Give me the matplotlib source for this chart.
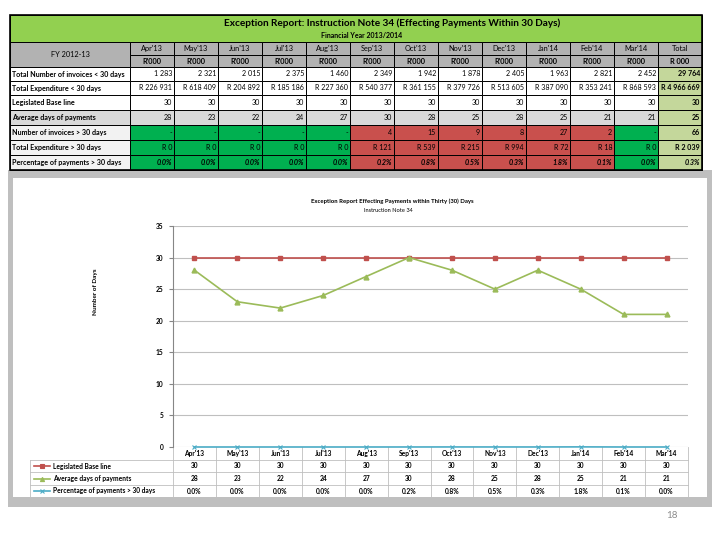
import matplotlib.pyplot as plt
from matplotlib.patches import Rectangle
from matplotlib.transforms import blended_transform_factory

plt.rcParams['font.family'] = ['Lato', 'DejaVu Sans']

# ---- data ----
months = ["Apr'13", "May'13", "Jun'13", "Jul'13", "Aug'13", "Sep'13",
          "Oct'13", "Nov'13", "Dec'13", "Jan'14", "Feb'14", "Mar'14"]
n_lt30 = [1283, 2321, 2015, 2375, 1460, 2349, 1942, 1878, 2405, 1963, 2821, 2452]
n_lt30_total = 29764
exp_lt30 = [226931, 618409, 204892, 185186, 227360, 540377, 361155, 379726,
            513605, 387090, 353241, 868593]
exp_lt30_total = 4966669
baseline = [30, 30, 30, 30, 30, 30, 30, 30, 30, 30, 30, 30]
baseline_total = 30
avg_days = [28, 23, 22, 24, 27, 30, 28, 25, 28, 25, 21, 21]
avg_days_total = 25
n_gt30 = [0, 0, 0, 0, 0, 4, 15, 9, 8, 27, 2, 0]
n_gt30_total = 66
exp_gt30 = [0, 0, 0, 0, 0, 121, 539, 215, 994, 72, 18, 0]
exp_gt30_total = 2039
pct_gt30 = [0.0, 0.0, 0.0, 0.0, 0.0, 0.2, 0.8, 0.5, 0.3, 1.8, 0.1, 0.0]
pct_gt30_total = 0.3

row_labels = ['Total Number of invoices < 30 days', 'Total Expenditure < 30 days',
              'Legislated Base line', 'Average days of payments',
              'Number of invoices > 30 days', 'Total Expenditure > 30 days',
              'Percentage of payments > 30 days']


def sp(v):
    return f'{v:,}'.replace(',', ' ')


def rands(v):
    return 'R ' + sp(v)


def dash(v):
    return '-' if v == 0 else sp(v)


rows = [
    [sp(v) for v in n_lt30] + [sp(n_lt30_total)],
    [rands(v) for v in exp_lt30] + [rands(exp_lt30_total)],
    [str(v) for v in baseline] + [str(baseline_total)],
    [str(v) for v in avg_days] + [str(avg_days_total)],
    [dash(v) for v in n_gt30] + [dash(n_gt30_total)],
    [rands(v) for v in exp_gt30] + [rands(exp_gt30_total)],
    [f'{v:.1f}%' for v in pct_gt30] + [f'{pct_gt30_total:.1f}%'],
]

GREEN_T = '#92D050'
HEAD = '#B2B2B2'
LGREEN = '#C4D79B'
OKG = '#00B050'
BAD = '#C9504D'
LGRAY = '#D9D9D9'

fig = plt.figure(figsize=(7.2, 5.4), dpi=100)
bg = fig.add_axes([0, 0, 1, 1], zorder=0)
bg.set_xlim(0, 720)
bg.set_ylim(540, 0)
bg.axis('off')

# ---------- top table ----------
tx0, tx1 = 10, 702
lab_w = 120
col_w = (tx1 - tx0 - lab_w) / 13
row_h = [14, 14, 15, 15, 15, 15, 15]


def cell(x, y, w, h, fc, ec='black', lw=0.7):
    bg.add_patch(Rectangle((x, y), w, h, facecolor=fc, edgecolor=ec, lw=lw))


cell(tx0, 15, tx1 - tx0, 27, GREEN_T)
bg.text(392, 23, 'Exception Report: Instruction Note 34 (Effecting Payments Within 30 Days)',
        ha='center', va='center', fontsize=7.2, fontweight='bold')
bg.text(362, 36, 'Financial Year 2013/2014', ha='center', va='center',
        fontsize=5, fontweight='bold')

cell(tx0, 42, lab_w, 25, HEAD)
bg.text(tx0 + lab_w / 2, 54.5, 'FY 2012-13', ha='center', va='center', fontsize=5.3)
heads = months + ['Total']
for j, m in enumerate(heads):
    x = tx0 + lab_w + j * col_w
    cell(x, 42, col_w, 13, HEAD)
    cell(x, 55, col_w, 12, HEAD)
    bg.text(x + col_w / 2, 48.5, m, ha='center', va='center', fontsize=5.3)
    bg.text(x + col_w / 2, 61, "R'000" if j < 12 else 'R 000', ha='center',
            va='center', fontsize=5.3, fontweight='bold')

y = 67
for i, (lab, vals) in enumerate(zip(row_labels, rows)):
    h = row_h[i]
    lab_fc = LGRAY if i == 3 else ('#F2F2F2' if i >= 4 else 'white')
    cell(tx0, y, lab_w, h, lab_fc)
    bg.text(tx0 + 2, y + h / 2, lab, ha='left', va='center', fontsize=5.1,
            fontweight='bold')
    for j, v in enumerate(vals):
        x = tx0 + lab_w + j * col_w
        if j == 12:
            fc = LGREEN
        elif i >= 4:
            fc = OKG if n_gt30[j] == 0 else BAD
        elif i == 3:
            fc = LGRAY
        else:
            fc = 'white'
        cell(x, y, col_w, h, fc)
        bg.text(x + col_w - 2, y + h / 2, v, ha='right', va='center',
                fontsize=5.1, fontweight='bold' if (j == 12 or i == 6) else 'normal',
                style='italic' if i == 6 else 'normal')
    y += h
bg.add_patch(Rectangle((tx0, 15), tx1 - tx0, y - 15, fill=False, ec='black', lw=1.2))

# ---------- chart frame ----------
bg.add_patch(Rectangle((8, 170), 704, 337, facecolor='#BFBFBF', edgecolor='none', zorder=-2))
bg.add_patch(Rectangle((13, 178), 694, 319, facecolor='white', edgecolor='none', zorder=-1))
bg.text(392, 201, 'Exception Report Effecting Payments within Thirty (30) Days',
        ha='center', va='center', fontsize=4.3, fontweight='bold')
bg.text(388, 211, 'Instruction Note 34', ha='center', va='center', fontsize=4.1)
bg.text(95, 292, 'Number of Days', ha='center', va='center', rotation=90,
        fontsize=4.6, fontweight='bold')
bg.text(672, 515, '18', ha='center', va='center', fontsize=7, color='#8C8C8C')

# ---------- chart ----------
ax = fig.add_axes([173 / 720, 1 - 447 / 540, (688 - 173) / 720, (447 - 226) / 540], zorder=1)
ax.set_facecolor('none')
x = list(range(len(months)))
ax.plot(x, baseline, color='#C0504D', lw=1.2, marker='s', ms=3.5, clip_on=False, zorder=3)
ax.plot(x, avg_days, color='#9BBB59', lw=1.2, marker='^', ms=3.5, clip_on=False, zorder=3)
ax.plot(x, [p / 100 for p in pct_gt30], color='#4BACC6', lw=1.2, marker='x', ms=3,
        mew=0.8, clip_on=False, zorder=3)
ax.set_xlim(-0.5, 11.5)
ax.set_ylim(0, 35)
ax.set_yticks(range(0, 36, 5))
ax.grid(axis='y', color='#BFBFBF', lw=0.8)
ax.set_axisbelow(True)
ax.set_xticks([])
for s in ['top', 'right', 'bottom']:
    ax.spines[s].set_visible(False)
ax.spines['left'].set_color('#868686')
ax.tick_params(axis='y', length=3, color='#868686', labelsize=4.8, pad=4)
for lab in ax.get_yticklabels():
    lab.set_fontweight('bold')

# ---------- data table under chart ----------
tr = blended_transform_factory(ax.transData, bg.transData)
gc = '#BFBFBF'
row_y = [447, 460, 472, 485, 497]
for k in range(len(months) + 1):
    bg.plot([k - 0.5, k - 0.5], [row_y[0], row_y[-1]], color=gc, lw=0.6, transform=tr)
for yy in row_y[1:]:
    bg.plot([30, 173], [yy, yy], color=gc, lw=0.6)
    bg.plot([-0.5, 11.5], [yy, yy], color=gc, lw=0.6, transform=tr)
bg.plot([30, 30], [row_y[1], row_y[-1]], color=gc, lw=0.6)
for j, m in enumerate(months):
    bg.text(j, 453.5, m, ha='center', va='center', fontsize=4.8, fontweight='bold', transform=tr)

series = [('Legislated Base line', '#C0504D', 's', [str(v) for v in baseline]),
          ('Average days of payments', '#9BBB59', '^', [str(v) for v in avg_days]),
          ('Percentage of payments > 30 days', '#4BACC6', 'x', [f'{v:.1f}%' for v in pct_gt30])]
for r, (name, col, mk, vals) in enumerate(series):
    yc = (row_y[r + 1] + row_y[r + 2]) / 2
    bg.plot([34, 50], [yc, yc], color=col, lw=1.2)
    bg.plot([42], [yc], color=col, marker=mk, ms=3, mew=0.8)
    bg.text(53, yc, name, ha='left', va='center', fontsize=4.8, fontweight='bold')
    for j, v in enumerate(vals):
        bg.text(j, yc, v, ha='center', va='center', fontsize=4.8, fontweight='bold', transform=tr)

fig.savefig('out.png', dpi=100)
